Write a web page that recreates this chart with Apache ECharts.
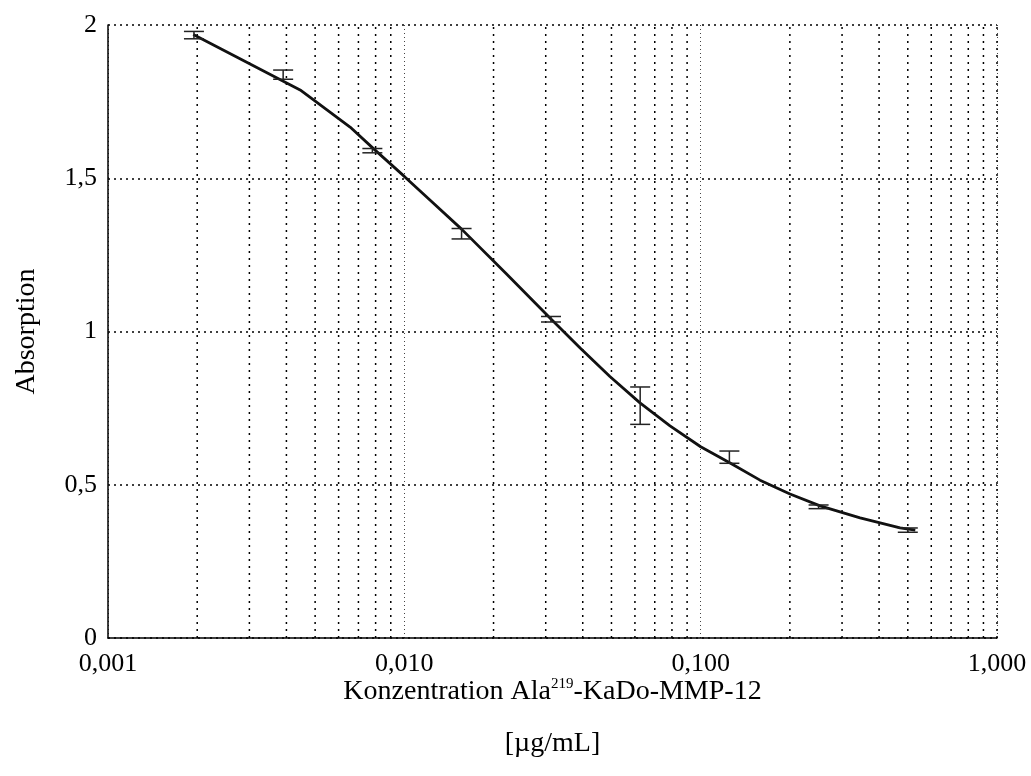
<!DOCTYPE html>
<html>
<head>
<meta charset="utf-8">
<script src="https://cdn.jsdelivr.net/npm/echarts@6/dist/echarts.min.js"></script>
<style>
  html, body { margin: 0; padding: 0; background: #fff; }
  #chart { width: 1031px; height: 776px; }
</style>
</head>
<body>
<div id="chart"></div>
<script>
// Measured absorption (mean ± deviation) over a two-fold dilution series
const concentrations = [0.00195, 0.0039, 0.0078, 0.0156, 0.03125, 0.0625, 0.125, 0.25, 0.5];
const meanAbs = [1.967, 1.838, 1.590, 1.319, 1.040, 0.758, 0.590, 0.428, 0.352];
const errAbs = [0.012, 0.015, 0.007, 0.017, 0.009, 0.061, 0.020, 0.006, 0.007];

// Fitted calibration curve
const fitX = [0.00194, 0.00445, 0.00656, 0.0079, 0.0100, 0.0122, 0.0156, 0.022, 0.03125,
              0.0392, 0.0494, 0.0624, 0.0788, 0.100, 0.1257, 0.1586, 0.2002, 0.2529,
              0.3451, 0.471, 0.53];
const fitY = [1.969, 1.788, 1.667, 1.595, 1.506, 1.429, 1.334, 1.19, 1.041,
              0.946, 0.853, 0.767, 0.692, 0.624, 0.571, 0.515, 0.470, 0.431,
              0.392, 0.359, 0.352];

// Minor vertical grid positions (2..9 within each decade, plus the right edge)
const minorGridX = [];
[0.001, 0.01, 0.1].forEach(function (d) {
  for (let m = 2; m <= 9; m++) minorGridX.push(+(m * d).toPrecision(3));
});
minorGridX.push(1);

const yTicks = { min: 0, max: 2, interval: 0.5 };
const serif = '"Liberation Serif", "DejaVu Serif", serif';

const chart = echarts.init(document.getElementById('chart'), null, { renderer: 'canvas' });

chart.setOption({
  animation: false,
  backgroundColor: '#fff',
  grid: { left: 108, right: 34, top: 25, bottom: 138, containLabel: false, outerBoundsMode: 'none' },
  xAxis: {
    type: 'log',
    logBase: 10,
    min: 0.001,
    max: 1,
    axisLine: { show: true, lineStyle: { color: '#000', width: 1.5 } },
    axisTick: { show: false },
    axisLabel: {
      color: '#000', fontFamily: serif, fontSize: 26, margin: 13,
      formatter: function (v) { return v.toFixed(3).replace('.', ','); }
    },
    splitLine: { show: true, lineStyle: { color: '#444', type: [1, 3], width: 1 } },
    name: '{a|Konzentration Ala}{s|219}{a|-KaDo-MMP-12}\n{a|[µg/mL]}',
    nameLocation: 'middle',
    nameGap: 28,
    nameMoveOverlap: false,
    nameTextStyle: {
      color: '#000', fontFamily: serif, fontSize: 28, lineHeight: 52,
      verticalAlign: 'top',
      rich: {
        a: { fontFamily: serif, fontSize: 28, color: '#000', lineHeight: 52 },
        s: { fontFamily: serif, fontSize: 15, color: '#000', lineHeight: 15, padding: [0, 0, 16, 0] }
      }
    }
  },
  yAxis: {
    type: 'value',
    min: yTicks.min,
    max: yTicks.max,
    interval: yTicks.interval,
    axisLine: { show: true, lineStyle: { color: '#000', width: 1.5 } },
    axisTick: { show: false },
    axisLabel: {
      color: '#000', fontFamily: serif, fontSize: 26, margin: 11,
      formatter: function (v) { return String(v).replace('.', ','); }
    },
    splitLine: { show: true, lineStyle: { color: '#000', type: [2, 4], width: 1.5 } },
    name: 'Absorption',
    nameLocation: 'middle',
    nameGap: 67,
    nameMoveOverlap: false,
    nameTextStyle: { color: '#000', fontFamily: serif, fontSize: 28 }
  },
  series: [
    {
      // minor log grid lines, placed through the axis scale
      name: 'Raster',
      type: 'custom',
      silent: true,
      data: minorGridX.map(function (x) { return [x]; }),
      encode: { x: 0 },
      z: 1,
      renderItem: function (params, api) {
        const x = api.value(0);
        const p0 = api.coord([x, yTicks.min]);
        const p1 = api.coord([x, yTicks.max]);
        return {
          type: 'line',
          shape: { x1: p0[0], y1: p0[1], x2: p1[0], y2: p1[1] },
          style: { stroke: '#000', lineWidth: 1.5, lineDash: [2, 5] }
        };
      }
    },
    {
      name: 'Fit',
      type: 'line',
      data: fitX.map(function (x, i) { return [x, fitY[i]]; }),
      showSymbol: false,
      smooth: false,
      lineStyle: { color: '#111', width: 2.8 },
      z: 5
    },
    {
      name: 'Messwerte',
      type: 'custom',
      data: concentrations.map(function (x, i) { return [x, meanAbs[i] - errAbs[i], meanAbs[i] + errAbs[i]]; }),
      encode: { x: 0, y: [1, 2] },
      z: 6,
      renderItem: function (params, api) {
        const x = api.value(0);
        const lo = api.coord([x, api.value(1)]);
        const hi = api.coord([x, api.value(2)]);
        const half = 10;
        const st = { stroke: '#222', lineWidth: 1.5 };
        return {
          type: 'group',
          children: [
            { type: 'line', shape: { x1: lo[0], y1: lo[1], x2: hi[0], y2: hi[1] }, style: st },
            { type: 'line', shape: { x1: lo[0] - half, y1: lo[1], x2: lo[0] + half, y2: lo[1] }, style: st },
            { type: 'line', shape: { x1: hi[0] - half, y1: hi[1], x2: hi[0] + half, y2: hi[1] }, style: st }
          ]
        };
      }
    }
  ]
});
</script>
</body>
</html>
